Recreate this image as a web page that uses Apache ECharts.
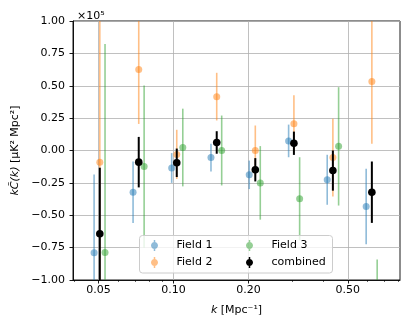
<!DOCTYPE html>
<html>
<head>
<meta charset="UTF-8">
<title></title>
<script src="https://cdn.jsdelivr.net/npm/echarts@6/dist/echarts.min.js"></script>
</head>
<body style="margin:0">
<div id="main" style="width:408px;height:326px;"></div>
<script>
// k positions (Mpc^-1), fields are dodged around the common k
var kField1 = [0.0480, 0.0688, 0.0983, 0.1413, 0.2012, 0.2895, 0.4135, 0.5926];
var kField2 = [0.0506, 0.0725, 0.1030, 0.1490, 0.2128, 0.3040, 0.4357, 0.6246];
var kField3 = [0.0531, 0.0762, 0.1089, 0.1560, 0.2228, 0.3205, 0.4594, 0.6560];
var kComb   = [0.0506, 0.0725, 0.1030, 0.1490, 0.2128, 0.3040, 0.4357, 0.6246];

// kC(k) in units of 1e5 uK^2 Mpc^2, and the 1-sigma errors
var field1 = [-0.790, -0.322, -0.135, -0.055, -0.188, 0.074, -0.226, -0.432];
var err1   = [0.605, 0.237, 0.115, 0.107, 0.110, 0.126, 0.193, 0.292];
var field2 = [-0.090, 0.625, -0.030, 0.416, 0.000, 0.206, -0.055, 0.533];
var err2   = [1.200, 0.420, 0.190, 0.184, 0.193, 0.220, 0.300, 0.480];
var field3 = [-0.787, -0.124, 0.023, 0.000, -0.250, -0.373, 0.032, -1.350];
var err3   = [1.610, 0.626, 0.300, 0.270, 0.284, 0.321, 0.457, 0.508];
var comb   = [-0.643, -0.090, -0.095, 0.062, -0.149, 0.056, -0.155, -0.322];
var errC   = [0.510, 0.195, 0.110, 0.087, 0.090, 0.090, 0.155, 0.237];

var xMajor = [0.05, 0.1, 0.2, 0.5];
var xMinor = [0.04, 0.06, 0.07, 0.08, 0.09, 0.3, 0.4, 0.6, 0.7, 0.8];
var yMin = -1, yMax = 1;

var font = 'DejaVu Sans';
// errorbar handle: vertical bar with a dot on it
var icon = 'path://M3.25,0L4.75,0L4.75,11L3.25,11Z' +
	'M4,2C5.933,2 7.5,3.567 7.5,5.5C7.5,7.433 5.933,9 4,9C2.067,9 0.5,7.433 0.5,5.5C0.5,3.567 2.067,2 4,2Z';

function errorSeries(name, ks, vals, errs, color, lw, r) {
	var data = ks.map(function (k, i) { return [k, vals[i], errs[i]]; });
	return {
		name: name,
		type: 'custom',
		data: data,
		encode: {x: 0, y: 1},
		itemStyle: {color: color},
		renderItem: function (params, api) {
			var k = api.value(0), v = api.value(1), e = api.value(2);
			var hi = Math.min(v + e, yMax), lo = Math.max(v - e, yMin);
			var children = [];
			if (hi > lo) {
				var p1 = api.coord([k, hi]), p2 = api.coord([k, lo]);
				children.push({type: 'line', shape: {x1: p1[0], y1: p1[1], x2: p2[0], y2: p2[1]},
					style: {stroke: color, lineWidth: lw}});
			}
			if (v >= yMin && v <= yMax) {
				var c = api.coord([k, v]);
				children.push({type: 'circle', shape: {cx: c[0], cy: c[1], r: r}, style: {fill: color}});
			}
			return {type: 'group', children: children};
		}
	};
}

function legendBlock(names, left) {
	return {
		data: names.map(function (n) { return {name: n, icon: icon}; }),
		orient: 'vertical', left: left, top: 240, itemWidth: 8, itemHeight: 11, itemGap: 6, padding: 0,
		itemStyle: {borderWidth: 0},
		textStyle: {fontFamily: font, fontSize: 11, color: '#000', padding: [0, 0, 0, 13]}, z: 20
	};
}

var myChart = echarts.init(document.getElementById('main'));
var option = {
	animation: false,
	textStyle: {fontFamily: font},
	title: {
		text: '×10⁵', left: 72, top: 6,
		textStyle: {fontFamily: font, fontSize: 11, fontWeight: 'normal', color: '#000'}
	},
	grid: {left: 73, right: 8, top: 21, bottom: 46, show: true, borderColor: '#000', borderWidth: 0.9},
	legend: [legendBlock(['Field 1', 'Field 2'], 151), legendBlock(['Field 3', 'combined'], 246)],
	graphic: [{
		type: 'rect', z: 15, shape: {x: 139.5, y: 235.5, width: 193, height: 37.5, r: 3},
		style: {fill: 'rgba(255,255,255,0.8)', stroke: '#cccccc', lineWidth: 1}
	}],
	xAxis: [{
		type: 'log', logBase: 10, min: 0.0395, max: 0.81, position: 'bottom',
		name: '{i|k} [Mpc⁻¹]', nameLocation: 'middle', nameGap: 25,
		nameTextStyle: {fontFamily: font, fontSize: 11, color: '#000',
			rich: {i: {fontFamily: font, fontSize: 11, fontStyle: 'italic', color: '#000'}}},
		axisLine: {onZero: false, lineStyle: {color: '#000', width: 0.9}},
		axisTick: {customValues: xMajor, length: 3.5, lineStyle: {color: '#000', width: 0.9}},
		axisLabel: {customValues: xMajor, fontSize: 11, color: '#000', margin: 5,
			formatter: function (v) { return (+v).toFixed(2); }},
		splitLine: {show: true, lineStyle: {color: '#b0b0b0', width: 0.8}}
	}, {
		type: 'log', logBase: 10, min: 0.0395, max: 0.81, position: 'bottom',
		axisLine: {show: false, onZero: false},
		axisTick: {customValues: xMinor, length: 2, lineStyle: {color: '#000', width: 0.6}},
		axisLabel: {show: false},
		splitLine: {show: false}
	}],
	yAxis: {
		type: 'value', min: yMin, max: yMax, interval: 0.25,
		name: '{i|kC̃(k)} [μK² Mpc²]', nameLocation: 'middle', nameGap: 45, nameRotate: 90,
		nameTextStyle: {fontFamily: font, fontSize: 11, color: '#000',
			rich: {i: {fontFamily: font, fontSize: 11, fontStyle: 'italic', color: '#000'}}},
		axisLine: {show: true, lineStyle: {color: '#000', width: 0.9}},
		axisTick: {show: true, length: 3.5, lineStyle: {color: '#000', width: 0.9}},
		axisLabel: {fontSize: 11, color: '#000', margin: 8,
			formatter: function (v) { return v.toFixed(2).replace('-', '\u2212'); }},
		splitLine: {show: true, lineStyle: {color: '#b0b0b0', width: 0.8}}
	},
	series: [
		errorSeries('Field 1', kField1, field1, err1, 'rgba(31,119,180,0.5)', 1.6, 3.5),
		errorSeries('Field 2', kField2, field2, err2, 'rgba(255,127,14,0.5)', 1.6, 3.5),
		errorSeries('Field 3', kField3, field3, err3, 'rgba(44,160,44,0.5)', 1.6, 3.5),
		errorSeries('combined', kComb, comb, errC, '#000', 2, 3.8)
	]
};
myChart.setOption(option);
</script>
</body>
</html>
